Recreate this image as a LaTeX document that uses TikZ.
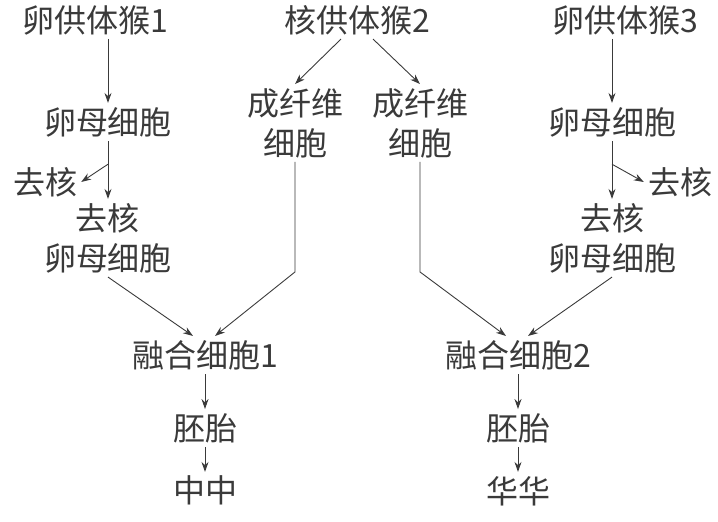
\documentclass[tikz,border=0pt]{standalone}
\usepackage{fontspec}
\usepackage{xcolor}
\usepackage{tikz}
\usetikzlibrary{arrows.meta, positioning, calc}
\newfontfamily\cjkfont{Noto Sans CJK SC}
\definecolor{inkgray}{HTML}{3A3A3A}

\begin{document}
\begin{tikzpicture}[
        x=1pt, y=-1pt,
        cell/.style={font=\cjkfont\fontsize{32}{40}\selectfont, text=inkgray,
                     inner sep=4pt, align=center},
        flow/.style={-{Stealth[length=10pt, width=7pt]}, draw=inkgray, line width=0.9pt}
    ]
    \useasboundingbox (0,0) rectangle (718,522);

    \node[cell] (donor1) at (95,20) {卵供体猴1};
    \node[cell] (donor2) at (357,20) {核供体猴2};
    \node[cell] (donor3) at (625,20) {卵供体猴3};

    \node[cell] (oocyte1) at (108,122) {卵母细胞};
    \node[cell] (oocyte3) at (612,122) {卵母细胞};
    \node[cell] (fibro1) at (295,123) {成纤维\\细胞};
    \node[cell] (fibro2) at (420,123) {成纤维\\细胞};

    \node[cell] (nucleus1) at (45,182) {去核};
    \node[cell] (nucleus3) at (680,182) {去核};
    \node[cell] (enucl1) at (108,238) {去核\\卵母细胞};
    \node[cell] (enucl3) at (612,238) {去核\\卵母细胞};

    \node[cell] (fused1) at (205,355) {融合细胞1};
    \node[cell] (fused2) at (518,355) {融合细胞2};
    \node[cell, below=35pt of fused1] (embryo1) {胚胎};
    \node[cell, below=35pt of fused2] (embryo2) {胚胎};
    \node[cell, below=25pt of embryo1] (zhongzhong) {中中};
    \node[cell, below=25pt of embryo2] (huahua) {华华};

    % egg donors
    \draw[flow] (oocyte1.north |- donor1.south) -- (oocyte1.north);
    \draw[flow] (oocyte3.north |- donor3.south) -- (oocyte3.north);
    \draw[flow] (oocyte1.south) -- (enucl1.north);
    \draw[flow] (oocyte3.south) -- (enucl3.north);
    \draw[flow] ($(oocyte1.south)!0.4!(enucl1.north)$) -- (nucleus1.east);
    \draw[flow] ($(oocyte3.south)!0.4!(enucl3.north)$) -- (nucleus3.west);

    % nucleus donor
    \draw[flow] ([xshift=-16pt]donor2.south) -- (fibro1.north);
    \draw[flow] ([xshift=16pt]donor2.south) -- (fibro2.north);

    % fusion
    \draw[flow] (enucl1.south) -- ([xshift=-12pt]fused1.north);
    \draw[flow] (fibro1.south) -- ++(0,110) -- ([xshift=10pt]fused1.north);
    \draw[flow] (fibro2.south) -- ++(0,110) -- ([xshift=-12pt]fused2.north);
    \draw[flow] (enucl3.south) -- ([xshift=10pt]fused2.north);

    \draw[flow] (fused1) -- (embryo1);
    \draw[flow] (fused2) -- (embryo2);
    \draw[flow] (embryo1) -- (zhongzhong);
    \draw[flow] (embryo2) -- (huahua);
\end{tikzpicture}
\end{document}
